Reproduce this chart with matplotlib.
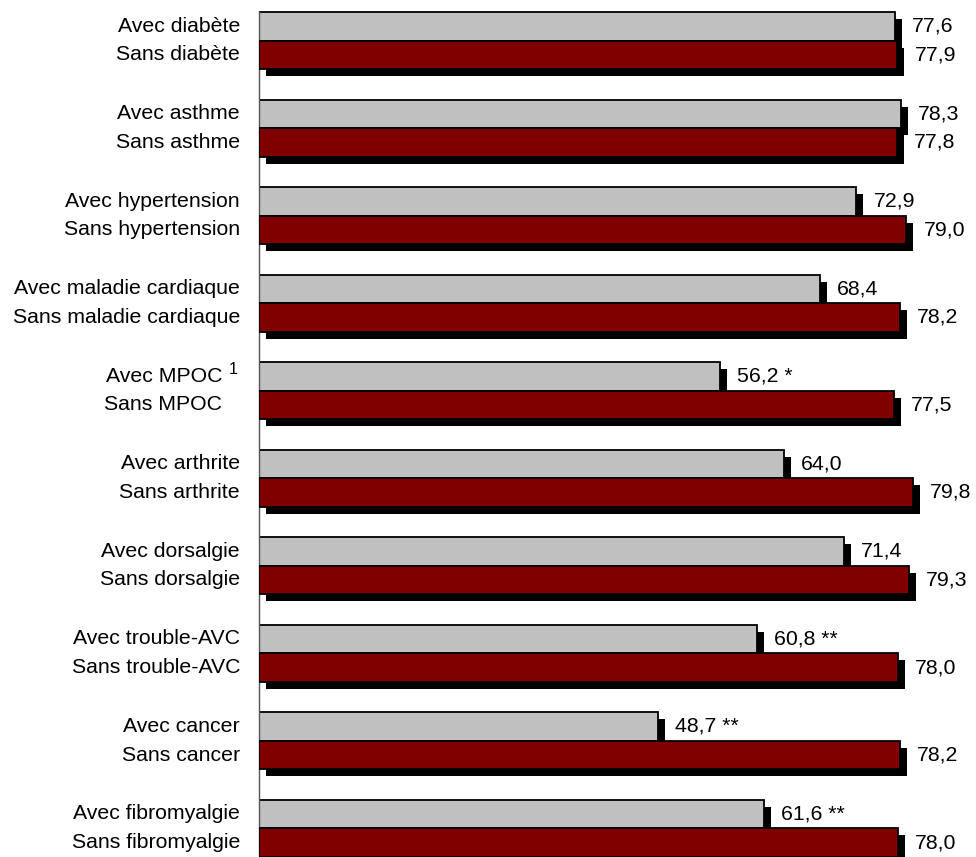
import matplotlib.pyplot as plt
import matplotlib.transforms as mtransforms
import numpy as np

plt.rcParams['font.family'] = ['Liberation Sans', 'DejaVu Sans']

# data
conditions = ["diabète", "asthme", "hypertension", "maladie cardiaque", "MPOC",
              "arthrite", "dorsalgie", "trouble-AVC", "cancer", "fibromyalgie"]
avec = [77.6, 78.3, 72.9, 68.4, 56.2, 64.0, 71.4, 60.8, 48.7, 61.6]
sans = [77.9, 77.8, 79.0, 78.2, 77.5, 79.8, 79.3, 78.0, 78.2, 78.0]
avec_flags = ["", "", "", "", " *", "", "", " **", " **", " **"]

gray = "#C0C0C0"
red = "#800000"
fs = 15.3

fig = plt.figure(figsize=(9.76, 8.57), dpi=100)
ax = fig.add_axes([259 / 976, 0, 1 - 259 / 976, 1])

n = len(conditions)
spacing = 3.06
y_avec = np.arange(n) * spacing
y_sans = y_avec + 1.0
h = 1.0

# shadow offsets (in data units, ~7 px)
px_x = 8.196
px_y = 28.6
dx = 7 / px_x
dy = 7 / px_y

ax.barh(y_avec + dy, avec, height=h, left=dx, color="black", zorder=1)
ax.barh(y_sans + dy, sans, height=h, left=dx, color="black", zorder=1)
ax.barh(y_avec, avec, height=h, color=gray, edgecolor="black", linewidth=1.3, zorder=2)
ax.barh(y_sans, sans, height=h, color=red, edgecolor="black", linewidth=1.3, zorder=3)

for ya, ys, va, vs, fl in zip(y_avec, y_sans, avec, sans, avec_flags):
    ax.annotate(f"{va:.1f}".replace(".", ",") + fl, (va, ya), xytext=(17, 0),
                textcoords="offset pixels", va="center", ha="left", fontsize=fs)
    ax.annotate(f"{vs:.1f}".replace(".", ","), (vs, ys), xytext=(17, 0),
                textcoords="offset pixels", va="center", ha="left", fontsize=fs)

# category labels
lab_tr = mtransforms.offset_copy(ax.get_yaxis_transform(), fig=fig, x=-19, units="dots")
mpoc_tr = mtransforms.offset_copy(ax.get_yaxis_transform(), fig=fig, x=-37, units="dots")
for name, ya, ys in zip(conditions, y_avec, y_sans):
    tr = mpoc_tr if name == "MPOC" else lab_tr
    ax.text(0, ya, "Avec " + name, transform=tr, ha="right", va="center", fontsize=fs)
    ax.text(0, ys, "Sans " + name, transform=tr, ha="right", va="center", fontsize=fs)
    if name == "MPOC":
        sup_tr = mtransforms.offset_copy(ax.get_yaxis_transform(), fig=fig, x=-21, y=7, units="dots")
        ax.text(0, ya, "1", transform=sup_tr, ha="right", va="center", fontsize=11.5)

ax.set_xlim(0, (976 - 259) / px_x)
ax.set_ylim((857 - 26.3) / px_y, -26.3 / px_y)

for s in ["top", "right", "bottom"]:
    ax.spines[s].set_visible(False)
ax.spines["left"].set_color("#555555")
ax.spines["left"].set_linewidth(1.0)
ax.spines["left"].set_bounds(y_avec[0] - h / 2, (857 - 26.3) / px_y)
ax.set_xticks([])
ax.set_yticks([])

fig.savefig("out.png", dpi=100)
